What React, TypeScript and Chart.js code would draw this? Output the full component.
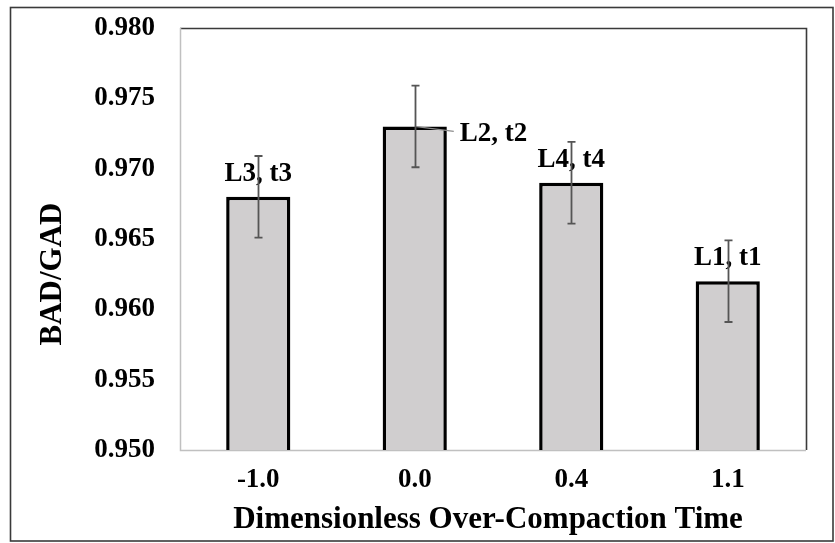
import React, { useEffect, useRef } from "react";
import { Chart, registerables } from "chart.js";

Chart.register(...registerables);

const categories = ["-1.0", "0.0", "0.4", "1.1"];
const values = [0.968, 0.973, 0.969, 0.962];
const errors = [0.0029, 0.0029, 0.0029, 0.0029];
const barLabels = ["L3, t3", "L2, t2", "L4, t4", "L1, t1"];
const labelSides = ["above", "right", "above", "above"];
const yMin = 0.95;
const yMax = 0.98;
const yStep = 0.005;
const xTitle = "Dimensionless Over-Compaction Time";
const yTitle = "BAD/GAD";

const FONT = "'Liberation Serif', 'Times New Roman', serif";

const decorPlugin = {
  id: "decor",
  beforeDraw(chart: any) {
    const ctx = chart.ctx;
    ctx.save();
    ctx.fillStyle = "#ffffff";
    ctx.fillRect(0, 0, chart.width, chart.height);
    ctx.strokeStyle = "#3a3a3a";
    ctx.lineWidth = 1.6;
    ctx.strokeRect(10.5, 7.5, 822.5, 533.5);
    ctx.restore();
  },
  beforeDatasetsDraw(chart: any) {
    const { ctx, chartArea } = chart;
    const { left, right, top, bottom } = chartArea;
    ctx.save();
    ctx.lineWidth = 1.6;
    ctx.strokeStyle = "#3a3a3a";
    ctx.beginPath();
    ctx.moveTo(left, top + 0.5);
    ctx.lineTo(right + 0.5, top + 0.5);
    ctx.lineTo(right + 0.5, bottom);
    ctx.stroke();
    ctx.strokeStyle = "#c0c0c0";
    ctx.lineWidth = 1.5;
    ctx.beginPath();
    ctx.moveTo(left + 0.5, top);
    ctx.lineTo(left + 0.5, bottom + 0.5);
    ctx.lineTo(right, bottom + 0.5);
    ctx.stroke();
    ctx.restore();
  },
  afterDatasetsDraw(chart: any) {
    const { ctx } = chart;
    const yScale = chart.scales.y;
    const meta = chart.getDatasetMeta(0);
    ctx.save();
    // labels
    ctx.font = `bold 27px ${FONT}`;
    ctx.fillStyle = "#000000";
    meta.data.forEach((bar: any, i: number) => {
      const x = bar.x;
      const yTop = yScale.getPixelForValue(values[i]);
      if (labelSides[i] === "right") {
        ctx.strokeStyle = "#8c8c8c";
        ctx.lineWidth = 1.2;
        ctx.beginPath();
        ctx.moveTo(x, yTop);
        ctx.lineTo(x + 39, yTop + 5);
        ctx.stroke();
        ctx.textAlign = "left";
        ctx.textBaseline = "middle";
        ctx.fillText(barLabels[i], x + 45, yTop + 8);
      } else {
        ctx.textAlign = "center";
        ctx.textBaseline = "middle";
        ctx.fillText(barLabels[i], x, yTop - 23);
      }
    });
    // error bars
    ctx.strokeStyle = "#555555";
    ctx.lineWidth = 1.8;
    meta.data.forEach((bar: any, i: number) => {
      const x = Math.round(bar.x) + 0.5;
      const yHi = yScale.getPixelForValue(values[i] + errors[i]);
      const yLo = yScale.getPixelForValue(values[i] - errors[i]);
      ctx.beginPath();
      ctx.moveTo(x, yHi);
      ctx.lineTo(x, yLo);
      ctx.moveTo(x - 4, yHi);
      ctx.lineTo(x + 4, yHi);
      ctx.moveTo(x - 4, yLo);
      ctx.lineTo(x + 4, yLo);
      ctx.stroke();
    });
    // axis titles
    ctx.fillStyle = "#000000";
    ctx.font = `bold 31px ${FONT}`;
    ctx.textAlign = "center";
    ctx.textBaseline = "middle";
    ctx.fillText(xTitle, 488, 520);
    ctx.save();
    ctx.translate(53, 274);
    ctx.rotate(-Math.PI / 2);
    ctx.fillText(yTitle, 0, 0);
    ctx.restore();
    ctx.restore();
  },
};

export default function App() {
  const canvasRef = useRef<HTMLCanvasElement | null>(null);

  useEffect(() => {
    document.body.style.margin = "0";
    const canvas = canvasRef.current;
    if (!canvas) return;
    const chart = new Chart(canvas, {
      type: "bar",
      data: {
        labels: categories,
        datasets: [
          {
            data: values,
            backgroundColor: "#d0cecf",
            borderColor: "#000000",
            borderWidth: 3.5,
            borderSkipped: false,
            categoryPercentage: 1,
            barPercentage: 0.41,
          },
        ],
      },
      options: {
        responsive: false,
        animation: false,
        devicePixelRatio: 1,
        layout: { padding: { left: 0, top: 28, right: 29, bottom: 0 } },
        plugins: {
          legend: { display: false },
          tooltip: { enabled: false },
        },
        scales: {
          x: {
            grid: { display: false, drawTicks: false },
            border: { display: false },
            ticks: {
              padding: 14,
              color: "#000000",
              font: { family: FONT, size: 27, weight: "bold" },
            },
            afterFit: (scale: any) => {
              scale.height = 93;
              scale.paddingLeft = 0;
              scale.paddingRight = 0;
            },
          },
          y: {
            min: yMin,
            max: yMax,
            grid: { display: false, drawTicks: false },
            border: { display: false },
            ticks: {
              stepSize: yStep,
              padding: 25,
              color: "#000000",
              font: { family: FONT, size: 27, weight: "bold" },
              callback: (v: any) => Number(v).toFixed(3),
            },
            afterFit: (scale: any) => {
              scale.width = 180;
              scale.paddingTop = 0;
              scale.paddingBottom = 0;
            },
          },
        },
      },
      plugins: [decorPlugin],
    });
    return () => chart.destroy();
  }, []);

  return (
    <div style={{ position: "absolute", left: 0, top: 0, width: 835, height: 543 }}>
      <canvas ref={canvasRef} width={835} height={543} />
    </div>
  );
}
